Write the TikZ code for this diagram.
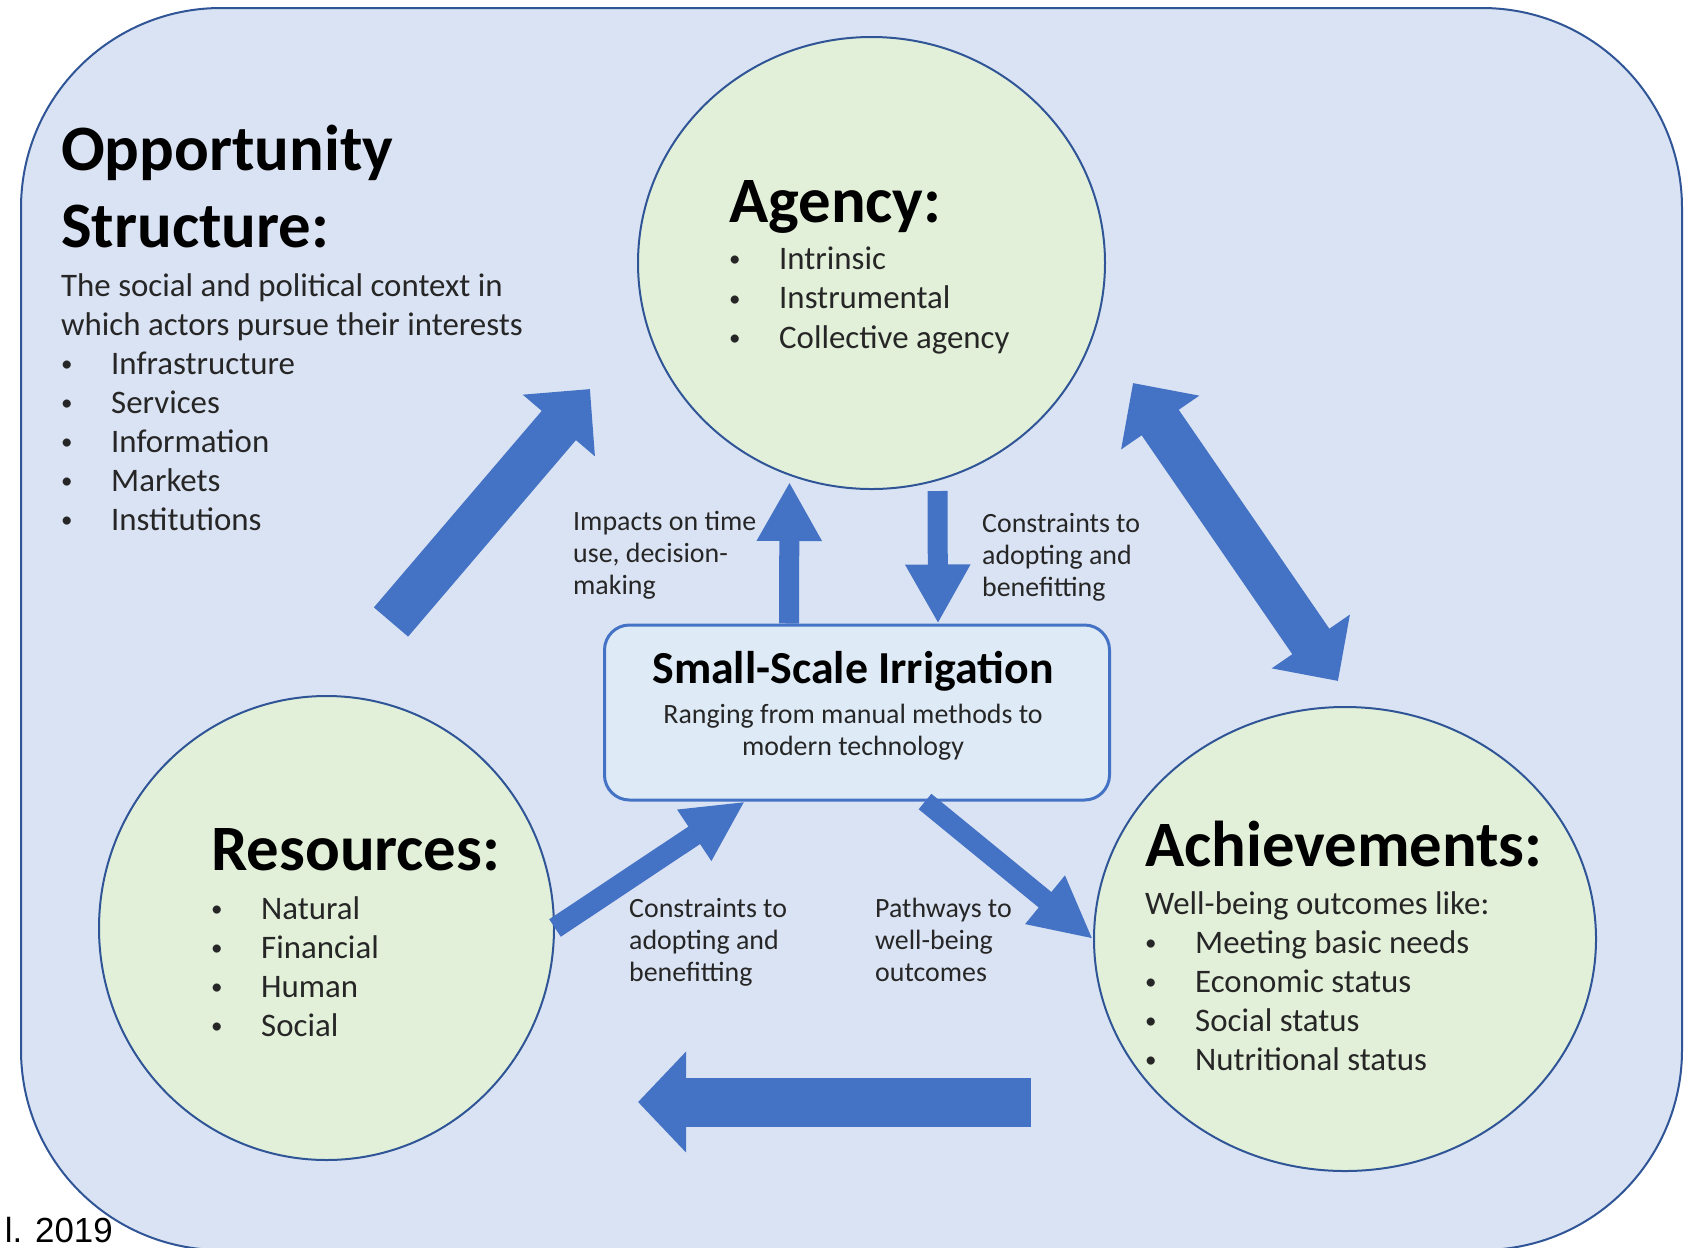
\documentclass[tikz,border=0pt]{standalone}
\usepackage{fontspec}
\setmainfont{Carlito}
\newfontfamily\arialfont{Liberation Sans}
\usetikzlibrary{positioning, arrows.meta, shapes.geometric}

\definecolor{panelfill}{HTML}{DAE3F3}
\definecolor{panelline}{HTML}{2F5597}
\definecolor{bubblefill}{HTML}{E2F0D9}
\definecolor{boxfill}{HTML}{DEEBF7}
\definecolor{arrowblue}{HTML}{4472C4}
\definecolor{labelgray}{HTML}{262626}

\newcommand{\li}[1]{\makebox[50bp][l]{\raisebox{0.08em}{\scalebox{0.7}{\textbullet}}}#1}

\tikzset{
    bubble/.style={draw=panelline, line width=2bp, fill=bubblefill, ellipse, inner sep=0pt},
    heading/.style={anchor=base west, inner sep=0pt, align=left,
        font=\fontsize{65}{77}\selectfont\bfseries},
    bodytext/.style={anchor=base west, inner sep=0pt, align=left, text=labelgray,
        font=\fontsize{33}{39}\selectfont},
    smalltext/.style={anchor=base west, inner sep=0pt, align=left, text=labelgray,
        font=\fontsize{28}{32}\selectfont},
    fat arrow/.style={draw=arrowblue, line width=45bp, -{Triangle[length=48bp, width=92bp]}},
    thin arrow/.style={draw=arrowblue, line width=20bp, -{Triangle[length=59bp, width=61bp]}},
}

\begin{document}
\begin{tikzpicture}[x=1bp, y=-1bp]
    \useasboundingbox (0,0) rectangle (1691,1247);
    \draw [draw=panelline, line width=2bp, fill=panelfill, rounded corners=200bp]
        (21,8) rectangle (1682,1250);

    \node [bubble,
    minimum width=467bp,
    minimum height=452bp
    ] (agency) at (871.5,263) {};

    \node [bubble,
    minimum width=455bp,
    minimum height=464bp
    ] (resources) at (326.5,928) {};

    \node [bubble,
    minimum width=502bp,
    minimum height=464bp
    ] (achievements) at (1345,939) {};

    \node [draw=arrowblue,
    line width=3bp,
    fill=boxfill,
    rounded corners=25bp,
    minimum width=505bp,
    minimum height=175bp
    ] (irrigation) at (857,712.5) {};

    % texts (placed at the baseline of their last line)
    \node [heading] (opportunity title) at (61,247) {Opportunity\\Structure:};
    \node [bodytext] (opportunity list) at (61,530) {
        The social and political context in\\
        which actors pursue their interests\\
        \li{Infrastructure}\\
        \li{Services}\\
        \li{Information}\\
        \li{Markets}\\
        \li{Institutions}};

    \node [heading] (agency title) at (729,222) {Agency:};
    \node [bodytext, font=\fontsize{33}{39.5}\selectfont] (agency list) at (729,348) {
        \li{Intrinsic}\\
        \li{Instrumental}\\
        \li{Collective agency}};

    \node [heading] (resources title) at (211,870) {Resources:};
    \node [bodytext] (resources list) at (211,1036) {
        \li{Natural}\\
        \li{Financial}\\
        \li{Human}\\
        \li{Social}};

    \node [heading] (achievements title) at (1145,866) {Achievements:};
    \node [bodytext] (achievements list) at (1145,1070) {
        Well-being outcomes like:\\
        \li{Meeting basic needs}\\
        \li{Economic status}\\
        \li{Social status}\\
        \li{Nutritional status}};

    \node [anchor=base, inner sep=0pt,
    font=\fontsize{46}{50}\selectfont\bfseries
    ] (irrigation title) at (853,683) {Small-Scale Irrigation};
    \node [anchor=base, inner sep=0pt, align=center, text=labelgray,
    font=\fontsize{28}{32}\selectfont
    ] (irrigation text) at (853,755) {Ranging from manual methods to\\modern technology};

    \node [smalltext] (impacts label) at (573,594) {Impacts on time\\use, decision-\\making};
    \node [smalltext] (upper constraints label) at (982,596) {Constraints to\\adopting and\\benefitting};
    \node [smalltext] (lower constraints label) at (629,981) {Constraints to\\adopting and\\benefitting};
    \node [smalltext] (pathways label) at (875,981) {Pathways to\\well-being\\outcomes};

    \node [anchor=base east, inner sep=0pt,
    font=\arialfont\fontsize{35}{40}\selectfont
    ] (source) at (113,1242) {l. 2019};

    % block arrows
    \coordinate (context tail) at (391,622);
    \coordinate (context tip) at (590,389);
    \draw [fat arrow] (context tail) -- (context tip);

    \coordinate (loop top) at (1133,383);
    \coordinate (loop bottom) at (1338,681);
    \draw [fat arrow, {Triangle[length=48bp, width=92bp]}-{Triangle[length=48bp, width=92bp]}]
        (loop top) -- (loop bottom);

    \coordinate (feedback tail) at (1031,1102);
    \coordinate (feedback tip) at (638,1102);
    \draw [fat arrow, line width=49bp, -{Triangle[length=48bp, width=98bp]}]
        (feedback tail) -- (feedback tip);

    \draw [thin arrow] ([xshift=-68bp]irrigation.north) -- ([xshift=-82bp, yshift=8bp]agency.south);
    \draw [thin arrow] ([xshift=66bp, yshift=-1bp]agency.south) -- ([xshift=81bp]irrigation.north);

    \draw [thin arrow, line width=21bp, -{Triangle[length=61bp, width=57bp]}]
        (resources.east) -- ([xshift=-112bp]irrigation.south);
    \draw [thin arrow, -{Triangle[length=62bp, width=58bp]}]
        ([xshift=68bp]irrigation.south) -- (achievements.west);
\end{tikzpicture}
\end{document}
